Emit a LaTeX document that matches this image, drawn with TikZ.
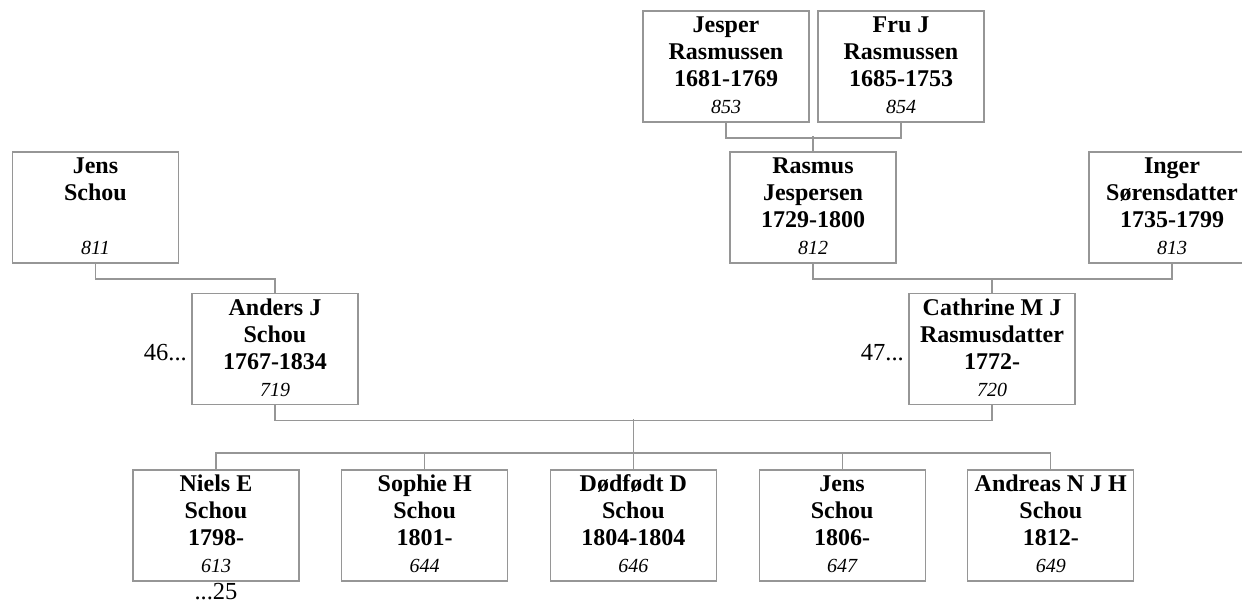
\documentclass[tikz,border=0pt]{standalone}
\usepackage{fontspec}
\setmainfont{Liberation Serif}
\usetikzlibrary{positioning}

\definecolor{linegray}{RGB}{150,150,150}

% name, name, years, number
\newcommand{\famtext}[4]{#1\rule{0pt}{21.9pt}\\#2\strut\\#3\strut\\{\fontsize{20}{27}\selectfont\mdseries\itshape #4\strut}}

\begin{document}
\begin{tikzpicture}[
  x=1pt, y=-1pt,
  node distance=42.7pt,
  every node/.style={font=\fontsize{24.5}{27}\selectfont, inner sep=0pt},
  person/.style={draw=linegray, line width=1.2pt, outer sep=0pt,
    minimum width=166pt, minimum height=109pt, align=center,
    font=\fontsize{24}{27}\selectfont\bfseries},
  link/.style={draw=linegray, line width=1.2pt}
]
\useasboundingbox (0,0) rectangle (1242,600);

% Oldeforaeldre
\node[person] (jesper) at (726,66.5) {\famtext{Jesper}{Rasmussen}{1681-1769}{853}};
\node[person, right=9pt of jesper] (fruj) {\famtext{Fru J}{Rasmussen}{1685-1753}{854}};

% Bedsteforaeldre
\node[person] (jens) at (95.5,207.5) {\famtext{Jens}{Schou}{}{811}};
\node[person] (rasmus) at (813,207.5) {\famtext{Rasmus}{Jespersen}{1729-1800}{812}};
\node[person, right=193pt of rasmus] (inger) {\famtext{Inger}{Sørensdatter}{1735-1799}{813}};

% Foraeldre
\node[person] (anders) at (275,349) {\famtext{Anders J}{Schou}{1767-1834}{719}};
\node[person] (cathrine) at (992,349) {\famtext{Cathrine M J}{Rasmusdatter}{1772-}{720}};
\node[left=5pt of anders, yshift=-4pt] (andersref) {46...};
\node[left=5pt of cathrine, yshift=-4pt] (cathrineref) {47...};

% Boern
\node[person] (niels) at (216,525.5) {\famtext{Niels E}{Schou}{1798-}{613}};
\node[person, right=of niels] (sophie) {\famtext{Sophie H}{Schou}{1801-}{644}};
\node[person, right=of sophie] (dodfodt) {\famtext{Dødfødt D}{Schou}{1804-1804}{646}};
\node[person, right=of dodfodt] (jensb) {\famtext{Jens}{Schou}{1806-}{647}};
\node[person, right=of jensb] (andreas) {\famtext{Andreas N J H}{Schou}{1812-}{649}};
\node[below=2pt of niels] (nielsref) {...25};

% Linjer
\draw[link] (jesper.south) -- ++(0,16) -| (fruj.south);
\draw[link] (rasmus.north) -- ++(0,-16);
\draw[link] (jens.south) -- ++(0,16) -| (anders.north);
\draw[link] (rasmus.south) -- ++(0,16) -| (inger.south);
\draw[link] (cathrine.north) -- ++(0,-16);
\draw[link] (anders.south) -- ++(0,16) -| (cathrine.south);
\draw[link] (niels.north) -- ++(0,-17) -| (andreas.north);
\draw[link] (dodfodt.north) -- ++(0,-51);
\foreach \kid in {sophie,jensb}
  \draw[link] (\kid.north) -- ++(0,-17);

\end{tikzpicture}
\end{document}
